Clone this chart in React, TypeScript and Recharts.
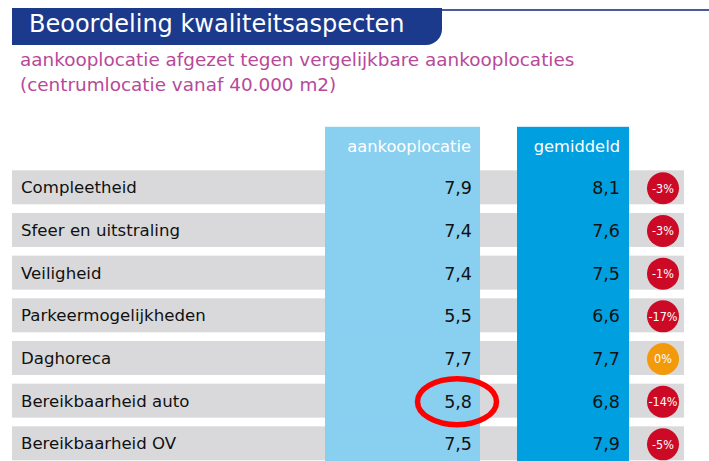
import React from 'react';
import { BarChart, Bar, XAxis, YAxis, LabelList } from 'recharts';

const titel = 'Beoordeling kwaliteitsaspecten';
const subtitelRegels = [
  'aankooplocatie afgezet tegen vergelijkbare aankooplocaties',
  '(centrumlocatie vanaf 40.000 m2)',
];
const kolomKoppen = ['aankooplocatie', 'gemiddeld'];
const aspecten = [
  'Compleetheid',
  'Sfeer en uitstraling',
  'Veiligheid',
  'Parkeermogelijkheden',
  'Daghoreca',
  'Bereikbaarheid auto',
  'Bereikbaarheid OV',
];
const aankooplocatie = [7.9, 7.4, 7.4, 5.5, 7.7, 5.8, 7.5];
const gemiddeld = [8.1, 7.6, 7.5, 6.6, 7.7, 6.8, 7.9];
const verschil = [-3, -3, -1, -17, 0, -14, -5];
const gemarkeerd = [false, false, false, false, false, true, false];

const data = aspecten.map((aspect, i) => ({
  aspect,
  aankooplocatie: aankooplocatie[i],
  gemiddeld: gemiddeld[i],
  verschil: verschil[i],
  gemarkeerd: gemarkeerd[i],
}));

// layout / styling
const W = 709;
const H = 465;
const FONT = '"DejaVu Sans", Verdana, sans-serif';
const GRIJS = '#d9d9db';
const LICHTBLAUW = '#88cff0';
const DONKERBLAUW = '#00a0e0';
const KOL1 = { x1: 325, x2: 480 };
const KOL2 = { x1: 517, x2: 629 };
const KOP_HOOGTE = 43.5;
const BADGE_X = 663;

const fmt = (v: number) => v.toFixed(1).replace('.', ',');

const RijAchtergrond = (props: any) => {
  const { x, y, width, height, index } = props;
  const laatste = index === data.length - 1;
  const top = index === 0 ? y - KOP_HOOGTE : y - 10;
  const bodem = laatste ? H : y + height + 10;
  return (
    <g>
      <rect x={x} y={y} width={width} height={height} fill={GRIJS} />
      <rect x={KOL1.x1} y={top} width={KOL1.x2 - KOL1.x1} height={bodem - top} fill={LICHTBLAUW} />
      <rect x={KOL2.x1} y={top} width={KOL2.x2 - KOL2.x1} height={bodem - top} fill={DONKERBLAUW} />
      {index === 0 && (
        <g fontFamily={FONT} fontSize={16.3} fill="#ffffff" textAnchor="end">
          <text x={KOL1.x2 - 9} y={y - 18}>{kolomKoppen[0]}</text>
          <text x={KOL2.x2 - 9} y={y - 18}>{kolomKoppen[1]}</text>
        </g>
      )}
    </g>
  );
};

const vb = (p: any) => (p.viewBox && p.viewBox.height != null ? p.viewBox : p);

const NaamLabel = (p: any) => {
  const { y, height } = vb(p);
  return (
    <text x={21} y={y + height / 2 + 6} fontFamily={FONT} fontSize={16.6} fill="#111">
      {p.value}
    </text>
  );
};

const WaardeLabel = (xRechts: number) => (p: any) => {
  const { y, height } = vb(p);
  return (
    <text x={xRechts} y={y + height / 2 + 7} fontFamily={FONT} fontSize={17.5} fill="#111" textAnchor="end">
      {fmt(Number(p.value))}
    </text>
  );
};

const BadgeLabel = (p: any) => {
  const { y, height } = vb(p);
  const v = Number(p.value);
  const cy = y + height / 2 + 1;
  return (
    <g>
      <circle cx={BADGE_X} cy={cy} r={16} fill={v === 0 ? '#f39a0b' : '#cc0a26'} />
      <text
        x={BADGE_X}
        y={cy + 4.5}
        textAnchor="middle"
        fontFamily='"DejaVu Sans Condensed", "DejaVu Sans", sans-serif'
        fontSize={12.5}
        fill="#ffffff"
      >
        {`${v}%`}
      </text>
    </g>
  );
};

const RingLabel = (p: any) => {
  if (!p.value) return null;
  const { y, height } = vb(p);
  return (
    <ellipse cx={457} cy={y + height / 2 + 1} rx={39.5} ry={23} fill="none" stroke="#ff0000" strokeWidth={5.5} />
  );
};

export default function App() {
  return (
    <div style={{ position: 'fixed', left: 0, top: 0, width: W, height: 461, background: '#fff', overflow: 'hidden' }}>
      <div style={{ position: 'absolute', left: 12, top: 9, width: W - 12, height: 2, background: '#4b5a9c' }} />
      <div
        style={{
          position: 'absolute',
          left: 12,
          top: 8,
          width: 430,
          height: 37,
          background: '#1b3a8c',
          borderBottomRightRadius: 16,
        }}
      />
      <div
        style={{
          position: 'absolute',
          left: 29,
          top: 7,
          color: '#fff',
          fontFamily: FONT,
          fontSize: 24,
          lineHeight: '34px',
          whiteSpace: 'nowrap',
        }}
      >
        {titel}
      </div>
      <div
        style={{
          position: 'absolute',
          left: 20,
          top: 47,
          color: '#b8489a',
          fontFamily: FONT,
          fontSize: 18.4,
          lineHeight: '25px',
          whiteSpace: 'nowrap',
        }}
      >
        {subtitelRegels.map((r) => (
          <div key={r}>{r}</div>
        ))}
      </div>
      <div style={{ position: 'absolute', left: 0, top: 0 }}>
        <BarChart
          width={W}
          height={H}
          data={data}
          layout="vertical"
          barSize={34}
          margin={{ top: 166.3, right: 25, bottom: 0, left: 12 }}
        >
          <XAxis type="number" hide domain={[0, 10]} />
          <YAxis type="category" dataKey="aspect" hide />
          <Bar
            dataKey="aankooplocatie"
            fill="transparent"
            isAnimationActive={false}
            background={(props: any) => <RijAchtergrond {...props} />}
          >
            <LabelList dataKey="aspect" content={NaamLabel} />
            <LabelList dataKey="aankooplocatie" content={WaardeLabel(472)} />
            <LabelList dataKey="gemiddeld" content={WaardeLabel(620)} />
            <LabelList dataKey="verschil" content={BadgeLabel} />
            <LabelList dataKey="gemarkeerd" content={RingLabel} />
          </Bar>
        </BarChart>
      </div>
    </div>
  );
}
